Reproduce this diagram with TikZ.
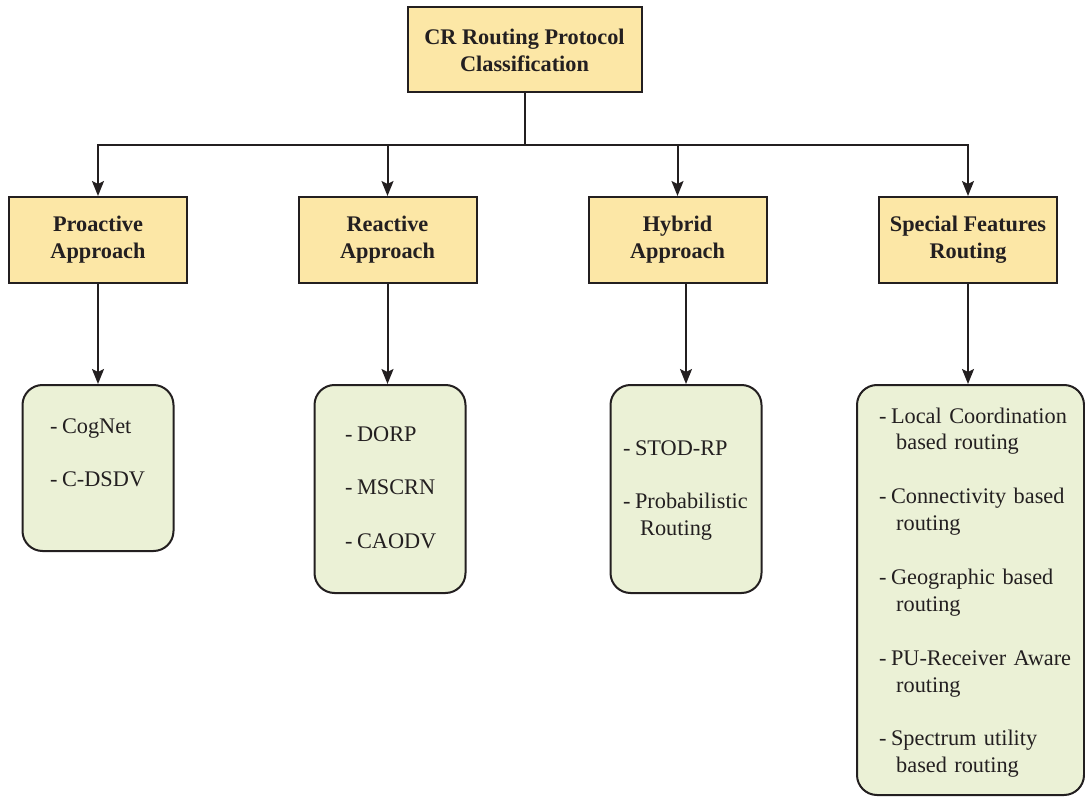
\documentclass[tikz,border=0pt]{standalone}
\usepackage{fontspec}
\setmainfont{Liberation Serif}
\usetikzlibrary{arrows.meta}
\definecolor{edge}{HTML}{231F20}
\definecolor{hdrfill}{HTML}{FCE7A6}
\definecolor{leaffill}{HTML}{EBF1D6}
\newcommand\diagsize{\fontsize{22.3pt}{26.9pt}\selectfont}
% list bullet: a hyphen followed by a narrow gap
\newcommand\itm{-\hspace{0.2em}}

\begin{document}
\begin{tikzpicture}[x=1pt,y=-1pt,
  hdr/.style={draw=edge, line width=2pt, fill=hdrfill, font=\diagsize\bfseries,
    text=edge, align=center, inner sep=0pt, minimum width=178pt, minimum height=86pt},
  leaf/.style={draw=edge, line width=2pt, fill=leaffill, rounded corners=20pt,
    inner sep=0pt, minimum width=151pt},
  items/.style={anchor=base west, inner sep=0pt, font=\diagsize, text=edge,
    align=left, text width=205pt},
  link/.style={draw=edge, line width=2pt},
  arr/.style={link, -{Stealth[length=15pt,width=12pt,inset=3pt]}}]

\useasboundingbox (0,0) rectangle (1085,797);

% root
\node[hdr, minimum width=234pt, minimum height=85pt] (root) at (524.5,50)
  {CR Routing Protocol\\Classification};

% approaches
\node[hdr] (pro) at (98,240)    {Proactive\\Approach};
\node[hdr] (rea) at (387.5,240) {Reactive\\Approach};
\node[hdr] (hyb) at (677.5,240) {Hybrid\\Approach};
\node[hdr] (spe) at (968,240)   {Special Features\\Routing};

% protocol lists
\node[leaf, minimum height=166pt] (proL) at (98,468) {};
\node[leaf, minimum height=208pt] (reaL) at (390,489) {};
\node[leaf, minimum height=208pt] (hybL) at (686,489) {};
\node[leaf, minimum width=227pt, minimum height=410pt] (speL) at (970.5,590) {};

\node[items] (proT) at (50,433) {\itm CogNet\\[26.9pt]\itm C-DSDV};
\node[items] (reaT) at (345,441) {\itm DORP\\[26.9pt]\itm MSCRN\\[26.9pt]\itm CAODV};
\node[items] (hybT) at (623,455)
  {\itm STOD-RP\\[26.9pt]\itm Probabilistic\\\hspace*{17pt}Routing};
\node[items] (speT) at (879,423)
  {\itm Local Coordination\\\hspace*{17pt}based routing\\[26.9pt]%
   \itm Connectivity based\\\hspace*{17pt}routing\\[26.9pt]%
   \itm Geographic based\\\hspace*{17pt}routing\\[26.9pt]%
   \itm PU-Receiver Aware\\\hspace*{17pt}routing\\[26.9pt]%
   \itm Spectrum utility\\\hspace*{17pt}based routing};

% root to approaches
\coordinate (bus) at (0,145);
\draw[link] (root.south) -- (root.south |- bus);
\draw[arr] (bus -| root.south) -- (bus -| pro.north) -- (pro.north);
\draw[arr] (bus -| root.south) -- (bus -| spe.north) -- (spe.north);
\draw[arr] (bus -| rea.north) -- (rea.north);
\draw[arr] (bus -| hyb.north) -- (hyb.north);

% approaches to lists
\draw[arr] (pro.south) -- (pro.south |- proL.north);
\draw[arr] (rea.south) -- (rea.south |- reaL.north);
\draw[arr] (hybL.north |- hyb.south) -- (hybL.north);
\draw[arr] (spe.south) -- (spe.south |- speL.north);
\end{tikzpicture}
\end{document}
